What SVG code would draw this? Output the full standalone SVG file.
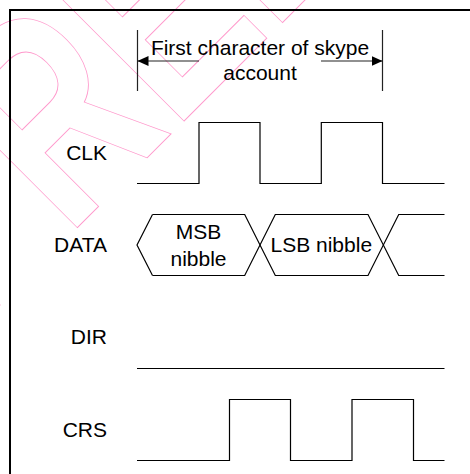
<svg xmlns="http://www.w3.org/2000/svg" width="470" height="474" viewBox="0 0 470 474">
<style>
.wm{font-family:"Liberation Sans",Arial,sans-serif;font-weight:bold;font-size:290px;fill:none;stroke:#ff99cc;stroke-width:1}
.lbl{font-family:"Liberation Sans",Arial,sans-serif;font-size:21px;fill:#000}
.sig{fill:none;stroke:#000;stroke-width:1.2}
.dim{fill:none;stroke:#222;stroke-width:1.2}
.frame{fill:none;stroke:#000;stroke-width:2}
</style>
<defs>
<marker id="ah" markerWidth="11" markerHeight="10" refX="11" refY="5" orient="auto" markerUnits="userSpaceOnUse">
<path d="M0 0 L11 5 L0 10 Z" fill="#000"/>
</marker>
</defs>
<rect width="470" height="474" fill="#fff"/>
<g id="watermark" transform="translate(-31,336) rotate(-45)">
<text class="wm" transform="scale(0.72,1)" x="0" y="0">PRELIMINARY</text>
</g>
<path id="frame" class="frame" d="M10 474 V10 H470"/>
<g id="dimension">
<path class="dim" d="M137.5 30 V91 M382.5 30 V91"/>
<path class="dim" d="M199 61 H137.5" marker-end="url(#ah)"/>
<path class="dim" d="M321 61 H382.5" marker-end="url(#ah)"/>
<text class="lbl" x="260" y="55" text-anchor="middle">First character of skype</text>
<text class="lbl" x="260" y="80" text-anchor="middle">account</text>
</g>
<g id="clk">
<text class="lbl" x="107" y="160" text-anchor="end">CLK</text>
<path class="sig" d="M137 183.5 H199 V122.5 H260 V183.5 H321.3 V122.5 H382.5 V183.5 H444.5"/>
</g>
<g id="data">
<text class="lbl" x="107" y="252" text-anchor="end">DATA</text>
<path class="sig" d="M152.5 214.5 L137 245 L152.5 275.5"/>
<path class="sig" d="M152.5 214.5 H244.7 L275.3 275.5 H368 L398.7 214.5 H444.5"/>
<path class="sig" d="M152.5 275.5 H244.7 L275.3 214.5 H368 L398.7 275.5 H444.5"/>
<text class="lbl" x="198.5" y="239.3" text-anchor="middle">MSB</text>
<text class="lbl" x="198.5" y="265.7" text-anchor="middle">nibble</text>
<text class="lbl" x="321.3" y="252" text-anchor="middle">LSB nibble</text>
</g>
<g id="dir">
<text class="lbl" x="107" y="344" text-anchor="end">DIR</text>
<path class="sig" d="M137 368.5 H444.5"/>
</g>
<g id="crs">
<text class="lbl" x="107" y="436.7" text-anchor="end">CRS</text>
<path class="sig" d="M137 460.5 H229.5 V399.5 H290.5 V460.5 H352 V399.5 H413.5 V460.5 H444.5"/>
</g>
</svg>
